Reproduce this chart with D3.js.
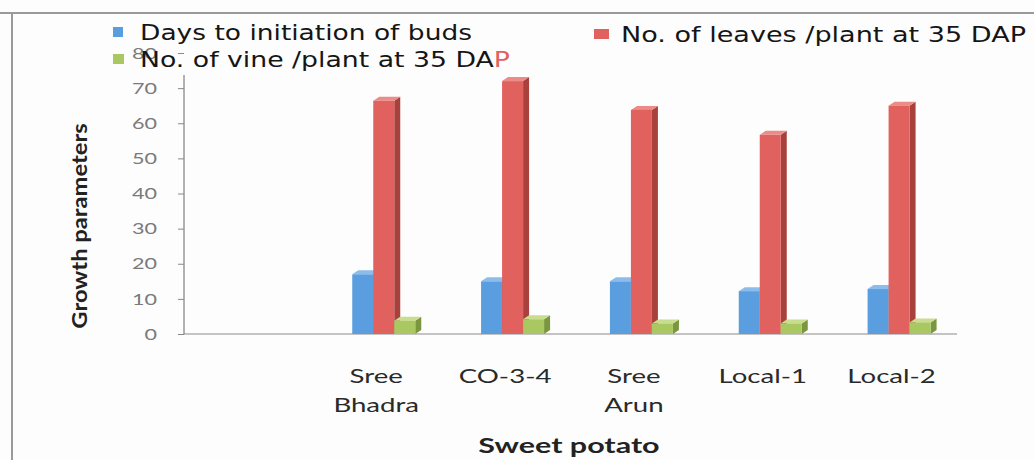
<!DOCTYPE html>
<html>
<head>
<meta charset="utf-8">
<script src="https://cdn.jsdelivr.net/npm/d3@7"></script>
<style>
body { margin: 0; background: #fff; }
svg { display: block; }
</style>
</head>
<body>
<div id="chart"></div>
<script>
// values
var categories = ["", "Sree Bhadra", "CO-3-4", "Sree Arun", "Local-1", "Local-2"];
var daysToBuds = [null, 17, 15, 15, 12.2, 12.8];
var leavesPerPlant = [null, 66.4, 72, 63.8, 56.7, 65];
var vinePerPlant = [null, 3.8, 4.2, 3, 3, 3.3];
var yTicks = [0, 10, 20, 30, 40, 50, 60, 70, 80];

var w = 1034, h = 460;
var x0 = 184, x1 = 957, yBase = 334, yTop = 53;
var barW = 21, dx = 6, dy = 4;
var font = "Lato, 'Open Sans', sans-serif";

var series = [
	{name: "Days to initiation of buds", values: daysToBuds, front: "#5b9ee0", side: "#3f78b5", top: "#8cbcec"},
	{name: "No. of leaves /plant at 35 DAP", values: leavesPerPlant, front: "#e0615d", side: "#a8403c", top: "#ec8c88"},
	{name: "No. of vine /plant at 35 DAP", values: vinePerPlant, front: "#a9c861", side: "#7a963e", top: "#c8de8e"}
];

// the scan is stretched sideways, so widen text to match
function widen(sel, k) {
	sel.each(function () {
		var len = this.getComputedTextLength();
		d3.select(this).attr("textLength", len * k).attr("lengthAdjust", "spacingAndGlyphs");
	});
}

var svg = d3.select("#chart").append("svg").attr("width", w).attr("height", h);

svg.append("rect").attr("width", w).attr("height", h).attr("fill", "#fdfdfd");

// scan borders
svg.append("line").attr("x1", 0).attr("x2", w).attr("y1", 13).attr("y2", 13)
	.attr("stroke", "#9a9a9a").attr("stroke-width", 2);
svg.append("line").attr("x1", 12).attr("x2", 12).attr("y1", 13).attr("y2", h)
	.attr("stroke", "#9a9a9a").attr("stroke-width", 2);

var xScale = d3.scaleBand().domain(categories).range([x0, x1]);
var yScale = d3.scaleLinear().domain([0, 80]).range([yBase, yTop]);

// x baseline
svg.append("line").attr("x1", x0).attr("x2", x1).attr("y1", yBase).attr("y2", yBase)
	.attr("stroke", "#b0b0b0").attr("stroke-width", 1.5);

// y axis
var yAxis = d3.axisLeft(yScale).tickValues(yTicks).tickSize(6).tickPadding(21);
var gy = svg.append("g").attr("transform", "translate(" + x0 + ",0)").call(yAxis);
gy.select(".domain").attr("stroke", "#666").attr("d", "M0," + yBase + "V75");
gy.selectAll(".tick line").attr("stroke", "#888");
gy.selectAll(".tick text").attr("fill", "#7a7a7a").style("font-family", font).style("font-size", "16px");
widen(gy.selectAll(".tick text"), 1.35);

// bars
series.forEach(function (s, si) {
	var g = svg.append("g");
	categories.forEach(function (c, ci) {
		var v = s.values[ci];
		if (v === null) return;
		var bx = xScale(c) + xScale.bandwidth() / 2 - 25 + si * barW;
		var by = yScale(v);
		g.append("polygon")
			.attr("points", [[bx + barW, by], [bx + barW + dx, by - dy], [bx + barW + dx, yBase - dy], [bx + barW, yBase]].join(" "))
			.attr("fill", s.side);
		g.append("polygon")
			.attr("points", [[bx, by], [bx + dx, by - dy], [bx + barW + dx, by - dy], [bx + barW, by]].join(" "))
			.attr("fill", s.top);
		g.append("rect").attr("x", bx).attr("y", by).attr("width", barW).attr("height", yBase - by)
			.attr("fill", s.front);
	});
});

// x labels
var xl = svg.append("g").style("font-family", font).style("font-size", "20px")
	.attr("fill", "#2a2a2a").attr("text-anchor", "middle");
categories.forEach(function (c) {
	if (c === "") return;
	var cx = xScale(c) + xScale.bandwidth() / 2 - 1;
	var words = c.indexOf("Sree") === 0 ? c.split(" ") : [c];
	words.forEach(function (wd, i) {
		xl.append("text").attr("x", cx).attr("y", 383 + i * 29).text(wd);
	});
});
widen(xl.selectAll("text"), 1.38);

var xt = svg.append("text").attr("x", 569).attr("y", 453).attr("text-anchor", "middle")
	.style("font-family", font).style("font-size", "21px").style("font-weight", "bold")
	.attr("fill", "#222").text("Sweet potato");
widen(xt, 1.45);

var yt = svg.append("text").attr("transform", "translate(87,226) rotate(-90)").attr("text-anchor", "middle")
	.style("font-family", font).style("font-size", "21px").style("font-weight", "bold")
	.attr("fill", "#222").text("Growth parameters");
widen(yt, 1.13);

// legend
var legendPos = [[113, 40], [594, 42], [113, 67]];
var legendLen = [332, 405, 370];
var swatchW = [10, 15, 11];
series.forEach(function (s, i) {
	var p = legendPos[i];
	svg.append("rect").attr("x", p[0]).attr("y", p[1] - 13).attr("width", swatchW[i]).attr("height", 10).attr("fill", s.front);
	var t = svg.append("text").attr("x", p[0] + 27).attr("y", p[1])
		.style("font-family", "'DejaVu Sans', Verdana, sans-serif").style("font-size", "21px")
		.attr("fill", "#151515")
		.attr("textLength", legendLen[i]).attr("lengthAdjust", "spacingAndGlyphs");
	if (i === 2) {
		t.append("tspan").text(s.name.slice(0, -1));
		t.append("tspan").attr("fill", "#e0615d").text(s.name.slice(-1));
	} else {
		t.text(s.name);
	}
});
</script>
</body>
</html>
